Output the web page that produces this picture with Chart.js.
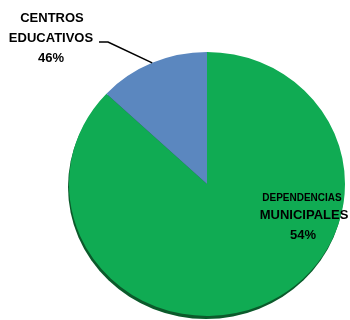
<!DOCTYPE html>
<html>
<head>
<meta charset="utf-8">
<script src="https://cdn.jsdelivr.net/npm/chart.js@4/dist/chart.umd.min.js"></script>
<style>
  html, body { margin: 0; padding: 0; background: #ffffff; }
  #wrap { width: 350px; height: 320px; overflow: hidden; position: relative; }
  canvas { display: block; }
</style>
</head>
<body>
<div id="wrap"><canvas id="c" width="350" height="340"></canvas></div>
<script>
// Categories (order as drawn clockwise from 12 o'clock)
const categories = ['DEPENDENCIAS MUNICIPALES', 'CENTROS EDUCATIVOS'];
// Slice sizes as drawn in the picture (share of the full circle, %)
const sliceValues = [87, 13];
// Percentage labels printed on the chart
const percentLabels = ['54%', '46%'];
const sliceColors = ['#10AB53', '#5B87BF'];

const squash = 132 / 138; // slight vertical flattening of the pie

function withSquash(ctx, arc, fn) {
  ctx.save();
  ctx.translate(arc.x, arc.y);
  ctx.scale(1, squash);
  ctx.translate(-arc.x, -arc.y);
  fn();
  ctx.restore();
}

const piePlugin = {
  id: 'piePlugin',
  beforeDatasetsDraw(chart) {
    const ctx = chart.ctx;
    const arc = chart.getDatasetMeta(0).data[0];
    // drop shadow
    ctx.save();
    ctx.translate(-1, 3);
    withSquash(ctx, arc, () => {
      ctx.beginPath();
      ctx.arc(arc.x, arc.y, arc.outerRadius, 0, Math.PI * 2);
      ctx.fillStyle = '#0b5a2b';
      ctx.fill();
    });
    ctx.restore();
    ctx.save();
    ctx.translate(arc.x, arc.y);
    ctx.scale(1, squash);
    ctx.translate(-arc.x, -arc.y);
  },
  afterDatasetsDraw(chart) {
    chart.ctx.restore();
  },
  afterDraw(chart) {
    const ctx = chart.ctx;
    const meta = chart.getDatasetMeta(0);
    const blue = meta.data[1];
    const mid = (blue.startAngle + blue.endAngle) / 2;
    const ex = blue.x + Math.cos(mid) * blue.outerRadius;
    const ey = blue.y + Math.sin(mid) * blue.outerRadius * squash;
    // leader line
    ctx.save();
    ctx.strokeStyle = '#000000';
    ctx.lineWidth = 1.6;
    ctx.beginPath();
    ctx.moveTo(ex, ey);
    ctx.lineTo(108, 42);
    ctx.lineTo(99, 42);
    ctx.stroke();
    ctx.restore();

    ctx.save();
    ctx.fillStyle = '#000000';
    ctx.textAlign = 'center';
    ctx.textBaseline = 'middle';
    const parts1 = categories[1].split(' ');
    ctx.font = 'bold 13px "Liberation Sans", Arial, sans-serif';
    ctx.fillText(parts1[0], 52, 18);
    ctx.fillText(parts1[1], 51, 38);
    ctx.fillText(percentLabels[1], 51, 58);

    const parts0 = categories[0].split(' ');
    ctx.font = 'bold 10px "Liberation Sans", Arial, sans-serif';
    ctx.fillText(parts0[0], 302, 198);
    ctx.font = 'bold 13px "Liberation Sans", Arial, sans-serif';
    ctx.fillText(parts0[1], 304, 215);
    ctx.fillText(percentLabels[0], 303, 235);
    ctx.restore();
  }
};

new Chart(document.getElementById('c'), {
  type: 'pie',
  data: {
    labels: categories,
    datasets: [{
      data: sliceValues,
      backgroundColor: sliceColors,
      borderWidth: 0
    }]
  },
  options: {
    responsive: false,
    animation: false,
    layout: { padding: { left: 69, right: 5, top: 46, bottom: 18 } },
    plugins: {
      legend: { display: false },
      tooltip: { enabled: false }
    }
  },
  plugins: [piePlugin]
});
</script>
</body>
</html>
